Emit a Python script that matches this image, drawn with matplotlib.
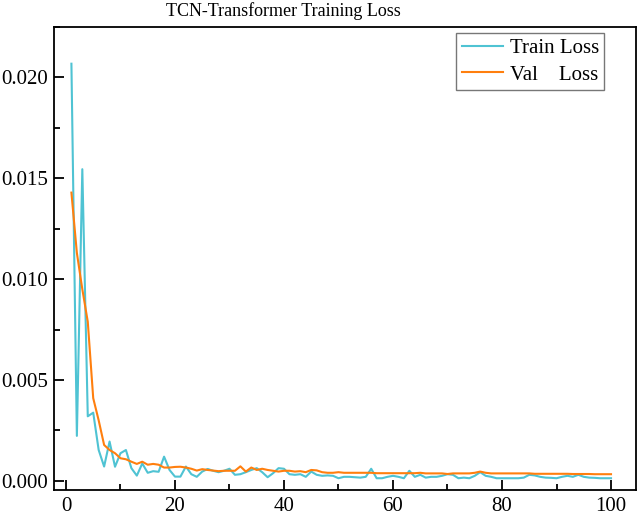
import numpy as np
import matplotlib
matplotlib.use('Agg')
import matplotlib.pyplot as plt
from matplotlib.ticker import MultipleLocator, FormatStrFormatter

plt.rcParams['font.family'] = ['Liberation Serif', 'DejaVu Serif']

epochs = np.arange(1, 101)

# values
train_loss = [
    0.02068, 0.00223, 0.01545, 0.00320, 0.00338, 0.00153, 0.00071, 0.00195, 0.00070, 0.00137,
    0.00153, 0.00063, 0.00026, 0.00086, 0.00040, 0.00048, 0.00045, 0.00120, 0.00054, 0.00021,
    0.00021, 0.00071, 0.00033, 0.00020, 0.00046, 0.00059, 0.00050, 0.00043, 0.00050, 0.00060,
    0.00030, 0.00033, 0.00043, 0.00054, 0.00063, 0.00043, 0.00018, 0.00038, 0.00063, 0.00060,
    0.00033, 0.00030, 0.00033, 0.00020, 0.00046, 0.00030, 0.00025, 0.00027, 0.00025, 0.00013,
    0.00020, 0.00020, 0.00018, 0.00016, 0.00020, 0.00060, 0.00013, 0.00013, 0.00020, 0.00025,
    0.00020, 0.00013, 0.00050, 0.00020, 0.00030, 0.00016, 0.00020, 0.00020, 0.00025, 0.00033,
    0.00030, 0.00013, 0.00016, 0.00013, 0.00025, 0.00043, 0.00025, 0.00020, 0.00013, 0.00013,
    0.00013, 0.00013, 0.00013, 0.00016, 0.00030, 0.00027, 0.00020, 0.00016, 0.00015, 0.00013,
    0.00020, 0.00025, 0.00020, 0.00030, 0.00020, 0.00016, 0.00015, 0.00013, 0.00013, 0.00013,
]
val_loss = [
    0.01429, 0.01130, 0.00950, 0.00789, 0.00410, 0.00300, 0.00178, 0.00153, 0.00137, 0.00112,
    0.00107, 0.00095, 0.00084, 0.00095, 0.00080, 0.00084, 0.00080, 0.00066, 0.00066, 0.00069,
    0.00070, 0.00066, 0.00060, 0.00051, 0.00058, 0.00054, 0.00051, 0.00048, 0.00050, 0.00050,
    0.00050, 0.00072, 0.00046, 0.00066, 0.00054, 0.00060, 0.00054, 0.00050, 0.00046, 0.00050,
    0.00050, 0.00046, 0.00048, 0.00043, 0.00054, 0.00052, 0.00043, 0.00040, 0.00040, 0.00043,
    0.00040, 0.00040, 0.00040, 0.00040, 0.00040, 0.00040, 0.00038, 0.00038, 0.00038, 0.00038,
    0.00038, 0.00038, 0.00038, 0.00038, 0.00040, 0.00037, 0.00037, 0.00037, 0.00037, 0.00034,
    0.00037, 0.00037, 0.00037, 0.00037, 0.00040, 0.00046, 0.00040, 0.00037, 0.00037, 0.00037,
    0.00037, 0.00037, 0.00037, 0.00037, 0.00037, 0.00035, 0.00035, 0.00035, 0.00035, 0.00035,
    0.00035, 0.00035, 0.00034, 0.00034, 0.00034, 0.00034, 0.00033, 0.00033, 0.00033, 0.00033,
]

fig = plt.figure(figsize=(6.38, 5.19), dpi=100)
ax = fig.add_axes([0.0846, 0.056, 0.9124, 0.892])

ax.plot(epochs, train_loss, color='#4FC3D3', lw=1.5, label='Train Loss')
ax.plot(epochs, val_loss, color='#FF7F0E', lw=1.5, label='Val    Loss')

ax.set_xlim(-2.2, 104.6)
ax.set_ylim(-0.00045, 0.0225)
ax.xaxis.set_major_locator(MultipleLocator(20))
ax.xaxis.set_minor_locator(MultipleLocator(10))
ax.yaxis.set_major_locator(MultipleLocator(0.005))
ax.yaxis.set_minor_locator(MultipleLocator(0.0025))
ax.yaxis.set_major_formatter(FormatStrFormatter('%.3f'))

ax.tick_params(which='both', direction='in', width=1.3, labelsize=15)
ax.tick_params(which='major', length=7)
ax.tick_params(which='minor', length=4)
ax.tick_params(axis='y', pad=4.5)
ax.tick_params(axis='x', pad=5)
for s in ax.spines.values():
    s.set_linewidth(1.3)

ax.set_title('TCN-Transformer Training Loss', fontsize=13, pad=8, x=0.394)

leg = ax.legend(loc='upper right', fontsize=15, frameon=True, fancybox=False,
                edgecolor='#555555', handlelength=2.0, handletextpad=0.3,
                borderpad=0.25, labelspacing=0.35, borderaxespad=0,
                bbox_to_anchor=(0.945, 0.987))
leg.get_frame().set_linewidth(1.0)

fig.savefig('out.png', dpi=100)
